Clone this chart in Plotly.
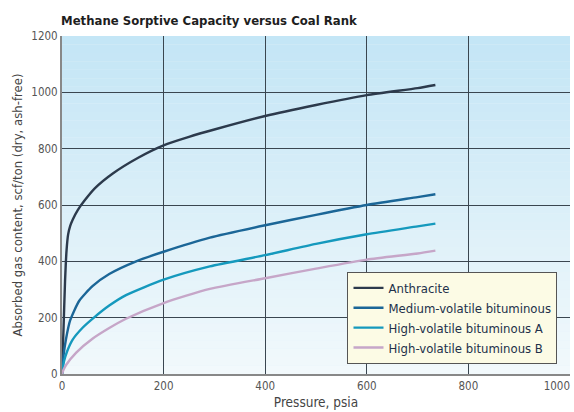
import plotly.graph_objects as go

# ---- data ----
series_names = ["Anthracite", "Medium-volatile bituminous",
                "High-volatile bituminous A", "High-volatile bituminous B"]

p_anthracite = [0, 3, 6, 9, 12, 16, 21, 31, 44, 65, 100, 150, 200, 250, 300, 400, 500, 600, 700, 735]
v_anthracite = [0, 160, 330, 440, 495, 525, 548, 582, 615, 660, 712, 768, 812, 842, 868, 916, 955, 990, 1015, 1026]

p_medium = [0, 3, 8, 16, 34, 60, 93, 146, 200, 291, 400, 500, 600, 700, 735]
v_medium = [0, 65, 125, 190, 260, 312, 355, 400, 434, 484, 528, 565, 600, 628, 638]

p_hva = [0, 4, 10, 21, 41, 64, 93, 126, 200, 291, 400, 500, 600, 700, 735]
v_hva = [0, 45, 80, 122, 165, 202, 243, 280, 335, 382, 422, 462, 496, 524, 534]

p_hvb = [0, 3, 8, 28, 60, 93, 126, 200, 291, 400, 500, 600, 700, 735]
v_hvb = [0, 15, 32, 76, 125, 163, 196, 252, 302, 340, 374, 406, 428, 438]

x_ticks = [0, 200, 400, 600, 800]
x_last_tick = [1000]
y_ticks = [0, 200, 400, 600, 800, 1000, 1200]

colors = ["#2c3a4c", "#1b6697", "#1599bd", "#c6a6c8"]

FONT = "Liberation Sans Narrow, DejaVu Sans Condensed, Arial Narrow, sans-serif"

fig = go.Figure()
for name, xs, ys, c in zip(series_names,
                           [p_anthracite, p_medium, p_hva, p_hvb],
                           [v_anthracite, v_medium, v_hva, v_hvb],
                           colors):
    fig.add_trace(go.Scatter(x=xs, y=ys, mode="lines", name=name,
                             line=dict(color=c, width=2.4, shape="spline", smoothing=0.6)))

# empty helper trace so the overlay axis (carrying only the last label) is drawn
fig.add_trace(go.Scatter(x=[], y=[], xaxis="x2", yaxis="y", showlegend=False,
                         hoverinfo="skip", mode="lines"))

# gradient background (light blue at top fading to near white)
top = (196, 230, 246)
bot = (242, 249, 252)
n = 40
for i in range(n):
    t = i / (n - 1)
    r = int(top[0] + (bot[0] - top[0]) * t)
    g = int(top[1] + (bot[1] - top[1]) * t)
    b = int(top[2] + (bot[2] - top[2]) * t)
    fig.add_shape(type="rect", xref="x domain", yref="y domain",
                  x0=0, x1=1, y0=1 - (i + 1) / n, y1=1 - i / n,
                  fillcolor=f"rgb({r},{g},{b})", line=dict(width=0), layer="below")

fig.update_layout(
    width=574, height=412,
    margin=dict(l=62, r=4, t=36, b=38),
    paper_bgcolor="white",
    plot_bgcolor="#e4f2f9",
    font=dict(family=FONT, size=12, color="#555555"),
    title=dict(text="<b>Methane Sorptive Capacity versus Coal Rank</b>",
               x=61 / 574, xanchor="left", y=1 - 20 / 412, yanchor="middle",
               font=dict(family=FONT, size=13, color="#1e1e1e")),
    showlegend=True,
    legend=dict(x=0.562, y=0.302, xanchor="left", yanchor="top",
                bgcolor="#fcfbe5", bordercolor="#555555", borderwidth=1,
                font=dict(family=FONT, size=13, color="#22304a"),
                itemwidth=30, tracegroupgap=0),
    xaxis=dict(range=[0, 1000], tickvals=x_ticks + x_last_tick,
               ticktext=[str(v) for v in x_ticks] + [""], showgrid=True,
               gridcolor="#3a4650", gridwidth=1, zeroline=False,
               showline=True, linecolor="#888888", linewidth=2,
               ticks="", automargin=False,
               tickfont=dict(size=11.5, color="#555555"),
               title=dict(text="Pressure, psia", standoff=6,
                          font=dict(size=13.5, color="#444444"))),
    # overlay axis that only carries the right-most label, right-aligned at its tick
    xaxis2=dict(overlaying="x", anchor="y", side="bottom", range=[0, 1000],
                tickvals=x_last_tick, ticktext=[str(v) for v in x_last_tick],
                showgrid=False, zeroline=False, showline=False, ticks="",
                ticklabelposition="outside left", ticklabelstandoff=3,
                automargin=False,
                tickfont=dict(size=11.5, color="#555555")),
    yaxis=dict(range=[0, 1200], tickvals=y_ticks, showgrid=True,
               gridcolor="#3a4650", gridwidth=1, zeroline=False,
               showline=True, linecolor="#888888", linewidth=2,
               ticks="", automargin=False,
               tickfont=dict(size=11.5, color="#555555"),
               title=dict(text="Absorbed gas content, scf/ton (dry, ash-free)", standoff=6,
                          font=dict(size=13, color="#444444"))),
)

fig.write_html("out.html")
